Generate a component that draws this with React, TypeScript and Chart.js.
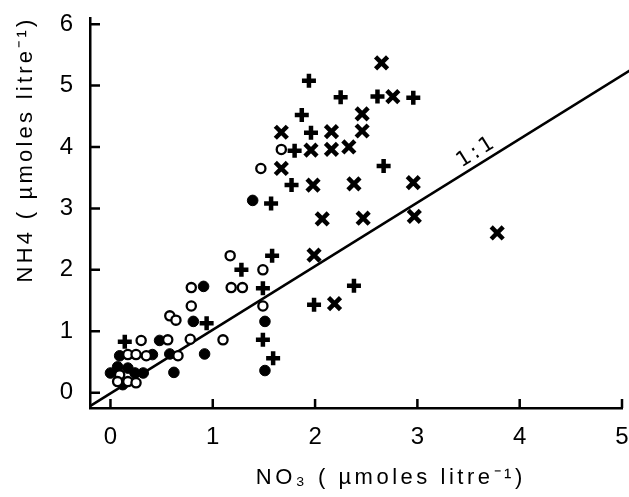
import React, { useEffect, useRef } from 'react';
import { Chart, registerables } from 'chart.js';

Chart.register(...registerables);

// axis ticks
const xTicks = [0, 1, 2, 3, 4, 5];
const yTicks = [0, 1, 2, 3, 4, 5, 6];

// open circles
const openX = [1.67, 1.47, 1.17, 1.49, 1.49, 0.79, 1.18, 1.29, 0.79, 0.58, 0.64, 1.10, 0.30, 0.56, 0.78, 0.17, 0.25, 0.35, 0.66, 0.09, 0.07, 0.17, 0.25];
const openY = [3.96, 3.65, 2.23, 2.00, 1.41, 1.71, 1.71, 1.71, 1.41, 1.25, 1.18, 0.86, 0.85, 0.86, 0.87, 0.62, 0.62, 0.60, 0.60, 0.29, 0.18, 0.18, 0.16];

// filled circles
const filledX = [1.39, 0.91, 0.81, 1.51, 1.51, 0.48, 0.92, 0.58, 0.41, 0.09, 0.62, 0.00, 0.07, 0.17, 0.24, 0.32, 0.12];
const filledY = [3.13, 1.73, 1.16, 1.16, 0.36, 0.85, 0.63, 0.63, 0.62, 0.60, 0.33, 0.32, 0.42, 0.40, 0.32, 0.32, 0.13];

// plus markers
const plusX = [1.94, 2.25, 2.61, 2.96, 1.87, 1.96, 1.80, 1.77, 2.67, 1.57, 1.58, 2.38, 1.99, 1.28, 1.49, 0.94, 1.49, 1.59, 0.14];
const plusY = [5.08, 4.81, 4.82, 4.80, 4.52, 4.23, 3.94, 3.38, 3.69, 3.08, 2.23, 1.74, 1.43, 2.00, 1.70, 1.13, 0.86, 0.56, 0.83];

// cross markers
const crossX = [2.65, 2.76, 2.46, 2.46, 2.16, 1.67, 1.96, 2.16, 2.33, 1.67, 1.98, 2.38, 2.96, 2.07, 2.47, 2.97, 1.99, 3.78, 2.19];
const crossY = [5.37, 4.82, 4.54, 4.26, 4.25, 4.24, 3.95, 3.96, 4.00, 3.65, 3.38, 3.40, 3.42, 2.83, 2.84, 2.87, 2.24, 2.60, 1.45];

// 1:1 reference line
const lineX = [-0.2, 5.08];
const lineY = [-0.22, 5.25];
const lineLabel = '1:1';
const lineLabelAt = [3.58, 3.92];

const xTitle = 'NO\u2083 ( \u00B5moles litre\u207B\u00B9)';
const yTitle = 'NH4 ( \u00B5moles litre\u207B\u00B9)';

const pts = (xs: number[], ys: number[]) => xs.map((x, i) => ({ x, y: ys[i] }));

const fitText = (ctx: any, text: string, cx: number, cy: number, width: number) => {
  ctx.letterSpacing = '0px';
  const w = ctx.measureText(text).width;
  const n = Array.from(text).length;
  const sp = Math.max(0, (width - w) / n);
  ctx.letterSpacing = sp + 'px';
  ctx.fillText(text, cx + sp / 2, cy);
  ctx.letterSpacing = '0px';
};

const decorPlugin = {
  id: 'decor',
  afterDraw(chart: any) {
    const { ctx, chartArea, scales } = chart;
    const xs = scales.x;
    const ys = scales.y;
    ctx.save();
    ctx.strokeStyle = '#000';
    ctx.lineWidth = 2.5;
    ctx.beginPath();
    for (const t of xs.ticks) {
      const px = xs.getPixelForValue(t.value);
      ctx.moveTo(px, chartArea.bottom);
      ctx.lineTo(px, chartArea.bottom - 9);
    }
    for (const t of ys.ticks) {
      const py = ys.getPixelForValue(t.value);
      ctx.moveTo(chartArea.left, py);
      ctx.lineTo(chartArea.left + 10, py);
    }
    ctx.stroke();

    // 1:1 label
    const ax = xs.getPixelForValue(lineX[0]);
    const ay = ys.getPixelForValue(lineY[0]);
    const bx = xs.getPixelForValue(lineX[1]);
    const by = ys.getPixelForValue(lineY[1]);
    const ang = Math.atan2(by - ay, bx - ax);
    ctx.save();
    ctx.translate(xs.getPixelForValue(lineLabelAt[0]), ys.getPixelForValue(lineLabelAt[1]));
    ctx.rotate(ang);
    ctx.fillStyle = '#000';
    ctx.font = '21px "DejaVu Sans"';
    (ctx as any).letterSpacing = '3px';
    ctx.textAlign = 'center';
    ctx.textBaseline = 'middle';
    ctx.fillText(lineLabel, 0, 0);
    ctx.restore();

    // axis titles
    ctx.fillStyle = '#000';
    ctx.textAlign = 'center';
    ctx.textBaseline = 'middle';
    ctx.font = '22px "Liberation Sans"';
    fitText(ctx, xTitle, 389, 478, 270);
    ctx.save();
    ctx.translate(26, 151);
    ctx.rotate(-Math.PI / 2);
    ctx.font = '22px "Liberation Sans"';
    fitText(ctx, yTitle, 0, 0, 266);
    ctx.restore();
    ctx.restore();
  },
};

export default function App() {
  const ref = useRef<HTMLCanvasElement | null>(null);

  useEffect(() => {
    if (!ref.current) return;
    Chart.defaults.font.family = '"Liberation Sans", Arial, sans-serif';
    const chart = new Chart(ref.current, {
      type: 'scatter',
      data: {
        datasets: [
          {
            type: 'line' as any,
            data: pts(lineX, lineY),
            borderColor: '#000',
            borderWidth: 2.5,
            pointRadius: 0,
            showLine: true,
            fill: false,
            clip: false as any,
            order: 10,
          },
          {
            data: pts(openX, openY),
            pointStyle: 'circle',
            pointRadius: 4.6,
            pointBackgroundColor: '#fff',
            pointBorderColor: '#000',
            pointBorderWidth: 2.3,
            order: 1,
          },
          {
            data: pts(filledX, filledY),
            pointStyle: 'circle',
            pointRadius: 5.3,
            pointBackgroundColor: '#000',
            pointBorderColor: '#000',
            pointBorderWidth: 1,
            order: 2,
          },
          {
            data: pts(plusX, plusY),
            pointStyle: 'cross',
            pointRadius: 7,
            pointBorderColor: '#000',
            pointBorderWidth: 4.5,
            order: 3,
          },
          {
            data: pts(crossX, crossY),
            pointStyle: 'crossRot',
            pointRadius: 8.5,
            pointBorderColor: '#000',
            pointBorderWidth: 4.5,
            order: 4,
          },
        ],
      },
      options: {
        animation: false,
        responsive: false,
        layout: { autoPadding: false, padding: { top: 18, right: 7, left: 0, bottom: 0 } },
        plugins: { legend: { display: false }, tooltip: { enabled: false } },
        scales: {
          x: {
            type: 'linear',
            min: -0.2,
            max: 5,
            afterBuildTicks: (axis: any) => {
              axis.ticks = xTicks.map((v) => ({ value: v }));
            },
            afterFit: (axis: any) => {
              axis.height = 89;
            },
            grid: { display: false, drawTicks: true, tickLength: 15 },
            border: { display: true, color: '#000', width: 2.5 },
            ticks: { color: '#000', font: { size: 24 }, padding: 0, maxRotation: 0 },
          },
          y: {
            type: 'linear',
            min: -0.25,
            max: 6.1,
            afterBuildTicks: (axis: any) => {
              axis.ticks = yTicks.map((v) => ({ value: v }));
            },
            afterFit: (axis: any) => {
              axis.width = 90;
            },
            grid: { display: false, drawTicks: true, tickLength: 17 },
            border: { display: true, color: '#000', width: 2.5 },
            ticks: { color: '#000', font: { size: 24 }, padding: 0 },
          },
        },
      },
      plugins: [decorPlugin],
    });
    return () => chart.destroy();
  }, []);

  return (
    <div style={{ position: 'absolute', left: 0, top: 0, width: 629, height: 497, background: '#fff' }}>
      <canvas ref={ref} width={629} height={497} />
    </div>
  );
}
